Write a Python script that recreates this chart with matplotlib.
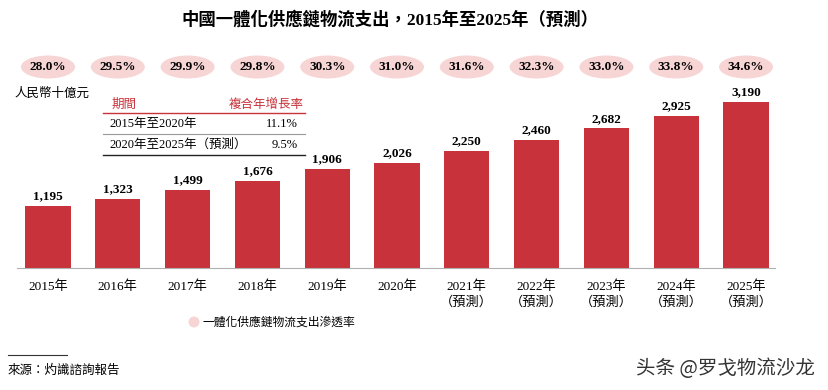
import matplotlib.pyplot as plt
from matplotlib.patches import Ellipse, Circle

years = ["2015年", "2016年", "2017年", "2018年", "2019年", "2020年",
         "2021年\n（預測）", "2022年\n（預測）", "2023年\n（預測）",
         "2024年\n（預測）", "2025年\n（預測）"]
spend = [1195, 1323, 1499, 1676, 1906, 2026, 2250, 2460, 2682, 2925, 3190]
penetration = [28.0, 29.5, 29.9, 29.8, 30.3, 31.0, 31.6, 32.3, 33.0, 33.8, 34.6]
cagr_periods = ["2015年至2020年", "2020年至2025年（預測）"]
cagr_values = ["11.1%", "9.5%"]

SERIF = ["Liberation Serif", "Noto Sans CJK TC"]
SANS = ["Noto Sans CJK TC", "DejaVu Sans"]
RED = "#c8323a"
PINK = "#f8d5d5"

W, H = 829, 390
fig = plt.figure(figsize=(W / 100, H / 100), dpi=100)

# main bar axes, placed in pixel terms
x0_px, step_px, base_px, top_px = 48, 69.8, 268, 95
left_px, right_px = 17, 775
ax = fig.add_axes([left_px / W, 1 - base_px / H, (right_px - left_px) / W,
                   (base_px - top_px) / H])
px_per_unit = (base_px - 102) / 3190
ax.set_xlim((left_px - x0_px) / step_px, (right_px - x0_px) / step_px)
ax.set_ylim(0, (base_px - top_px) / px_per_unit)

xs = list(range(len(spend)))
ax.bar(xs, spend, width=0.65, color=RED)
for x, v in zip(xs, spend):
    ax.text(x, v + 70, f"{v:,}", ha="center", va="bottom", fontsize=9.5,
            fontweight="bold", family=SERIF)

for s in ["top", "right", "left"]:
    ax.spines[s].set_visible(False)
ax.spines["bottom"].set_color("#b0b0b0")
ax.set_yticks([])
ax.set_xticks(xs)
ax.set_xticklabels(years, family=SERIF, fontsize=9.5, linespacing=1.35,
                   va="top")
ax.tick_params(axis="x", length=0, pad=9)

# overlay axes in pixel coordinates for the rest
ov = fig.add_axes([0, 0, 1, 1])
ov.set_xlim(0, W)
ov.set_ylim(H, 0)
ov.axis("off")

ov.text(390, 20, "中國一體化供應鏈物流支出，2015年至2025年（預測）",
        ha="center", va="center", fontsize=12.5, fontweight="bold", family=SERIF)

for i, p in enumerate(penetration):
    cx = x0_px + i * step_px
    ov.add_patch(Ellipse((cx, 67), 54, 23, color=PINK, lw=0))
    ov.text(cx, 67, f"{p:.1f}%", ha="center", va="center", fontsize=9.5,
            fontweight="bold", family=SERIF)

ov.text(14, 93, "人民幣十億元", ha="left", va="center", fontsize=9, family=SANS)

# CAGR table
ov.text(112, 104, "期間", ha="left", va="center", fontsize=9, color=RED,
        family=SANS)
ov.text(304, 104, "複合年增長率", ha="right", va="center", fontsize=9,
        color=RED, family=SANS)
ov.plot([103, 305], [113, 113], color=RED, lw=1)
ov.plot([103, 305], [134, 134], color="#999999", lw=0.8)
ov.plot([103, 305], [155, 155], color="#222222", lw=1)
for j, (period, val) in enumerate(zip(cagr_periods, cagr_values)):
    y = 124 + j * 21
    ov.text(109, y, period, ha="left", va="center", fontsize=9, family=SERIF)
    ov.text(298, y, val, ha="right", va="center", fontsize=9, family=SERIF)

# legend
ov.add_patch(Circle((194, 322), 5.5, color=PINK, lw=0))
ov.text(203, 322, "一體化供應鏈物流支出滲透率", ha="left", va="center",
        fontsize=8.5, family=SANS)

# source
ov.plot([8, 67], [355, 355], color="#333333", lw=0.8)
ov.text(8, 370, "來源：灼識諮詢報告", ha="left", va="center", fontsize=9,
        style="italic", family=SANS)
ov.text(815, 369, "头条 @罗戈物流沙龙", ha="right", va="center", fontsize=14,
        color="#333333", family=["Noto Sans CJK SC", "DejaVu Sans"])

fig.savefig("out.png", dpi=100, facecolor="white")
